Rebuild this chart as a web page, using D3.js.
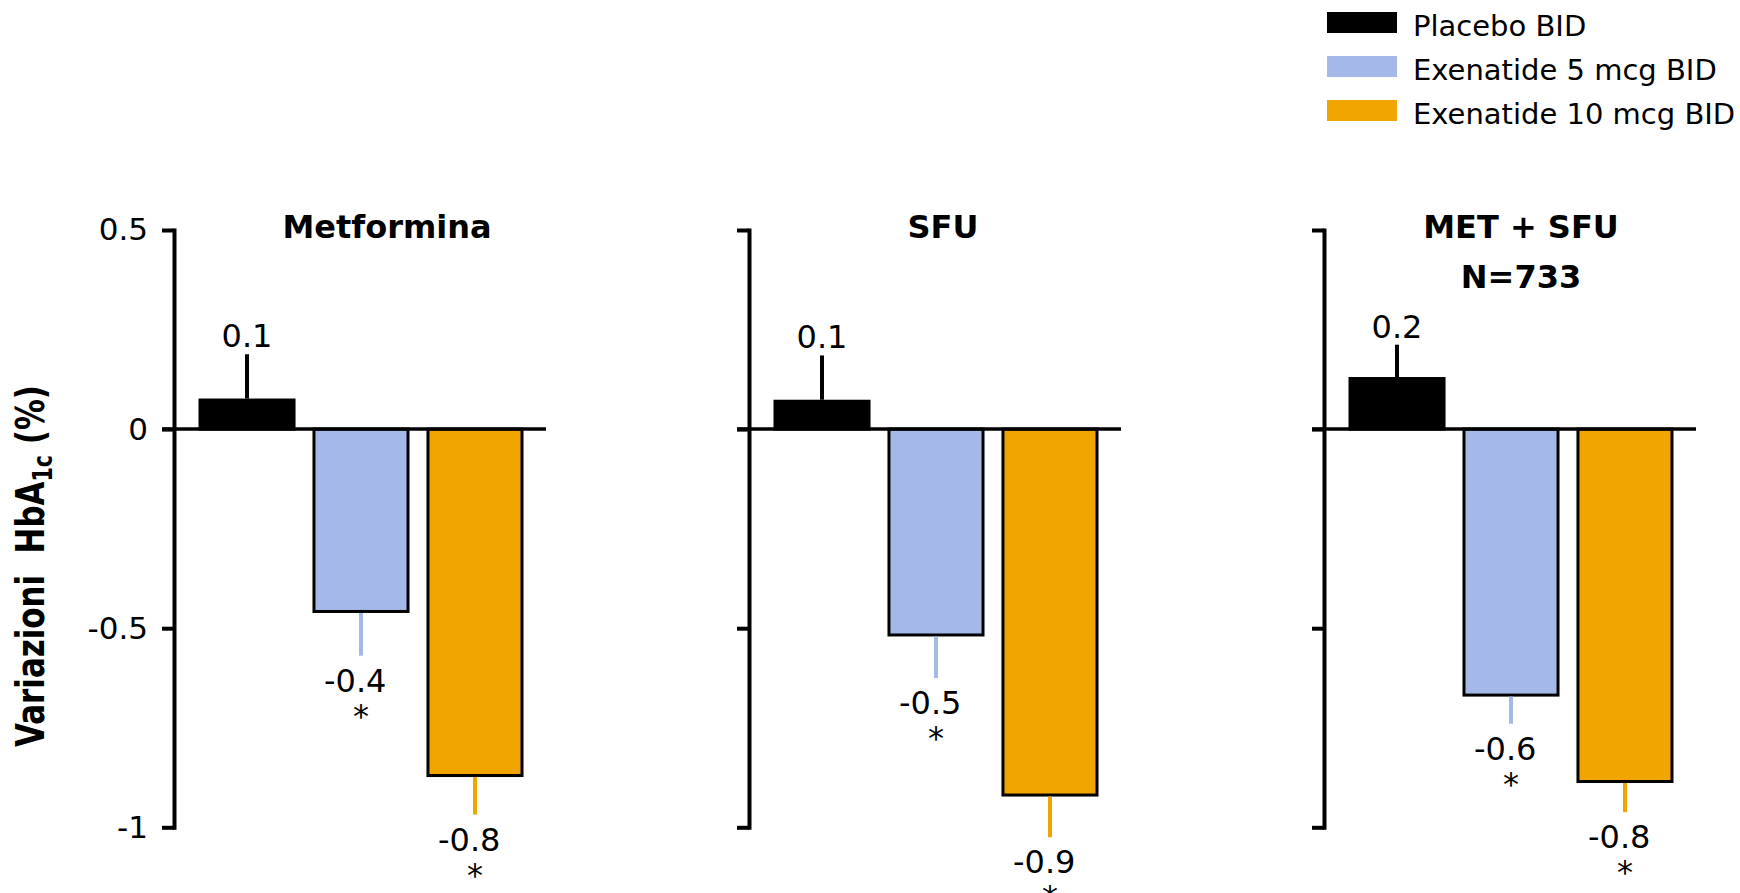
<!DOCTYPE html>
<html>
<head>
<meta charset="utf-8">
<script src="https://cdn.jsdelivr.net/npm/d3@7"></script>
<style>
  html, body { margin: 0; padding: 0; background: #fff; }
  svg { display: block; }
  text { font-family: "DejaVu Sans", Verdana, sans-serif; fill: #000; }
</style>
</head>
<body>
<svg id="chart"></svg>
<script>
// Data
const panels = ["Metformina", "SFU", "MET + SFU"];
const panelSubtitles = ["", "", "N=733"];
const series = ["Placebo BID", "Exenatide 5 mcg BID", "Exenatide 10 mcg BID"];
const colors = ["#000000", "#a4b9e7", "#f0a500"];

// mean change per panel
const placeboValues = [0.073, 0.070, 0.127];
const exe5Values = [-0.458, -0.517, -0.668];
const exe10Values = [-0.870, -0.919, -0.885];

// error bar length per panel
const placeboErr = [0.115, 0.115, 0.085];
const exe5Err = [0.111, 0.108, 0.072];
const exe10Err = [0.098, 0.106, 0.077];

// printed labels
const placeboLabels = ["0.1", "0.1", "0.2"];
const exe5Labels = ["-0.4", "-0.5", "-0.6"];
const exe10Labels = ["-0.8", "-0.9", "-0.8"];
const exe5Stars = [true, true, true];
const exe10Stars = [true, true, true];

const yTicks = [0.5, 0, -0.5, -1];
const yTickLabels = ["0.5", "0", "-0.5", "-1"];

const valuesBySeries = [placeboValues, exe5Values, exe10Values];
const errBySeries = [placeboErr, exe5Err, exe10Err];
const labelsBySeries = [placeboLabels, exe5Labels, exe10Labels];
const starsBySeries = [[false, false, false], exe5Stars, exe10Stars];

const width = 1740;
const height = 893;
// title centre, measured from each panel's axis
const titleDx = [213, 194, 197];

const svg = d3.select("#chart")
  .attr("width", width)
  .attr("height", height);

// Scales
const panelX = d3.scalePoint()
  .domain(panels)
  .range([174, 1324]);

const x = d3.scaleBand()
  .domain(series)
  .range([26, 348])
  .paddingInner(0.175);

const y = d3.scaleLinear()
  .domain([-1, 0.5])
  .range([827.3, 230]);

// Y-axis label (condensed bold)
const yLabel = svg.append("text")
  .attr("transform", "translate(44,566) rotate(-90)")
  .attr("text-anchor", "middle")
  .attr("font-family", "Open Sans")
  .attr("font-weight", 700)
  .attr("font-size", 39)
  .attr("textLength", 362)
  .attr("lengthAdjust", "spacingAndGlyphs");
yLabel.append("tspan").text("Variazioni\u00a0\u00a0HbA");
yLabel.append("tspan").attr("font-size", 26).attr("dy", "0.3em").text("1c");
yLabel.append("tspan").attr("dy", "-0.2em").text("\u00a0(%)");

panels.forEach((p, i) => {
  const g = svg.append("g")
    .attr("transform", `translate(${panelX(p)},0)`);

  // Axis
  const axis = g.append("g")
    .call(
      d3.axisLeft(y)
        .tickValues(yTicks)
        .tickSize(12)
        .tickSizeOuter(0)
        .tickPadding(14)
        .tickFormat(i === 0 ? (d => yTickLabels[yTicks.indexOf(d)]) : "")
    );
  axis.select(".domain")
    .attr("stroke", "#000")
    .attr("stroke-width", 4)
    .attr("stroke-linecap", "square");
  axis.selectAll(".tick line")
    .attr("stroke", "#000")
    .attr("stroke-width", 4);
  axis.selectAll(".tick text")
    .attr("font-family", "DejaVu Sans")
    .attr("font-size", 31)
    .attr("fill", "#000");

  // Panel title
  g.append("text")
    .attr("x", titleDx[i])
    .attr("y", 238)
    .attr("text-anchor", "middle")
    .attr("font-weight", 700)
    .attr("font-size", 32)
    .text(p);
  if (panelSubtitles[i]) {
    g.append("text")
      .attr("x", titleDx[i])
      .attr("y", 288)
      .attr("text-anchor", "middle")
      .attr("font-weight", 700)
      .attr("font-size", 32)
      .text(panelSubtitles[i]);
  }

  const rows = series.map((s, j) => ({
    series: s,
    color: colors[j],
    value: valuesBySeries[j][i],
    err: errBySeries[j][i],
    label: labelsBySeries[j][i],
    star: starsBySeries[j][i]
  }));

  // Bars
  g.selectAll(".bar")
    .data(rows)
    .enter()
    .append("rect")
    .attr("class", "bar")
    .attr("x", d => x(d.series))
    .attr("y", d => Math.min(y(d.value), y(0)))
    .attr("width", x.bandwidth())
    .attr("height", d => Math.abs(y(d.value) - y(0)))
    .attr("fill", d => d.color)
    .attr("stroke", "#000")
    .attr("stroke-width", 3);

  // Error bars (one-sided)
  g.selectAll(".err")
    .data(rows)
    .enter()
    .append("line")
    .attr("class", "err")
    .attr("x1", d => x(d.series) + x.bandwidth() / 2)
    .attr("x2", d => x(d.series) + x.bandwidth() / 2)
    .attr("y1", d => y(d.value) + (d.value < 0 ? 1.5 : -1.5))
    .attr("y2", d => y(d.value + Math.sign(d.value) * d.err))
    .attr("stroke", d => d.color)
    .attr("stroke-width", 4);

  // Zero line
  g.append("line")
    .attr("x1", -12)
    .attr("x2", 372)
    .attr("y1", y(0))
    .attr("y2", y(0))
    .attr("stroke", "#000")
    .attr("stroke-width", 3.5);

  // Value labels
  const labelY = d => d.value >= 0
    ? y(d.value + d.err) - 7
    : y(d.value - d.err) + 36;

  g.selectAll(".val")
    .data(rows)
    .enter()
    .append("text")
    .attr("class", "val")
    .attr("x", d => x(d.series) + x.bandwidth() / 2)
    .attr("y", labelY)
    .attr("dx", d => d.value < 0 ? "-0.18em" : 0)
    .attr("text-anchor", "middle")
    .attr("font-size", 32)
    .text(d => d.label);

  g.selectAll(".star")
    .data(rows.filter(d => d.star))
    .enter()
    .append("text")
    .attr("class", "star")
    .attr("x", d => x(d.series) + x.bandwidth() / 2)
    .attr("y", d => labelY(d) + 35)
    .attr("text-anchor", "middle")
    .attr("font-size", 32)
    .text("*");
});

// Legend
const legend = svg.append("g")
  .attr("transform", "translate(1327,12)");

const item = legend.selectAll(".item")
  .data(series)
  .enter()
  .append("g")
  .attr("class", "item")
  .attr("transform", (d, i) => `translate(0,${i * 44})`);

item.append("rect")
  .attr("width", 70)
  .attr("height", 21)
  .attr("fill", (d, i) => colors[i]);

item.append("text")
  .attr("x", 86)
  .attr("y", 24)
  .attr("font-size", 29)
  .text(d => d);
</script>
</body>
</html>
